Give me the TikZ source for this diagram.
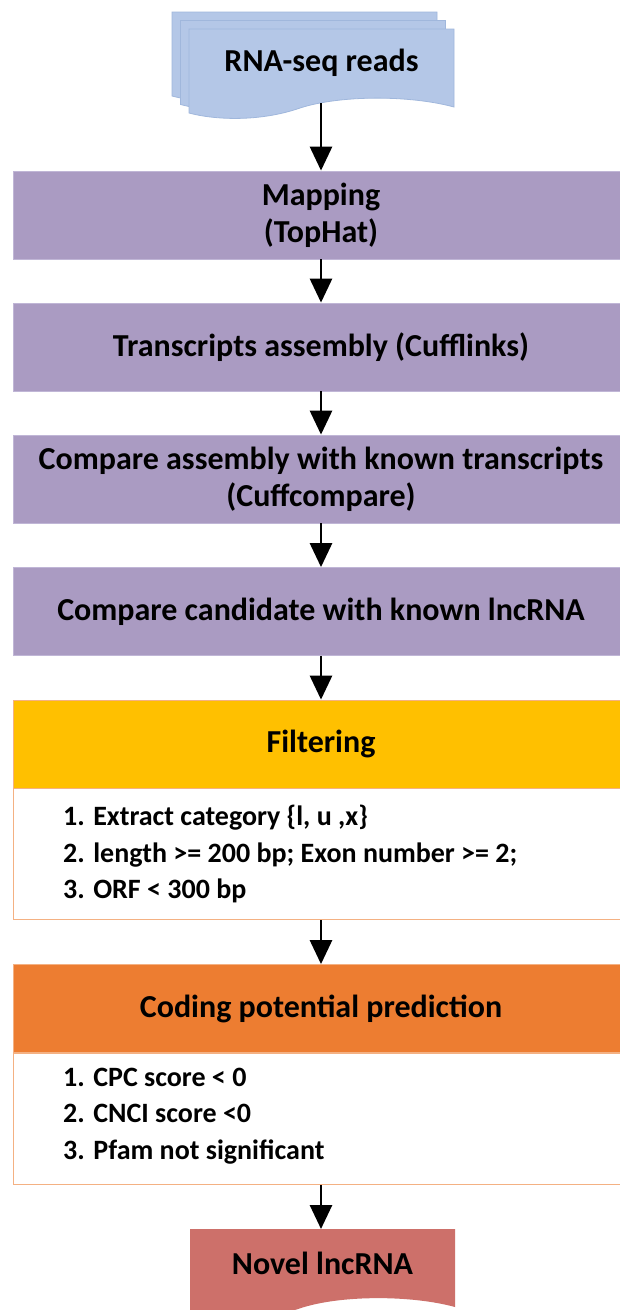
\documentclass[tikz,border=0pt]{standalone}
\usepackage{fontspec}
\setmainfont{Carlito}
\usetikzlibrary{arrows.meta}
\definecolor{docblue}{RGB}{180,199,231}
\definecolor{docedge}{RGB}{160,183,220}
\definecolor{lilac}{RGB}{170,155,194}
\definecolor{lilacedge}{RGB}{192,182,214}
\definecolor{gold}{RGB}{255,192,0}
\definecolor{tangerine}{RGB}{237,125,49}
\definecolor{rosered}{RGB}{205,112,106}
\definecolor{peach}{RGB}{244,177,131}
\begin{document}
\begin{tikzpicture}[x=1pt,y=-1pt,
  stage/.style={rectangle, fill=lilac, draw=lilacedge, line width=0.8pt,
    minimum width=616pt, minimum height=88pt, inner sep=0pt,
    font=\fontsize{32}{37}\selectfont\bfseries, align=center},
  head/.style={rectangle, draw=peach, line width=0.8pt,
    minimum width=616pt, minimum height=88pt, inner sep=0pt,
    font=\fontsize{32}{37}\selectfont\bfseries},
  body/.style={rectangle, fill=white, draw=peach, line width=1pt,
    minimum width=616pt, minimum height=131pt, inner sep=0pt},
  items/.style={anchor=west, align=left, inner sep=0pt,
    font=\fontsize{28}{36.5}\selectfont\bfseries},
  label/.style={inner sep=0pt, font=\fontsize{32}{37}\selectfont\bfseries},
  arr/.style={-{Triangle[width=22pt,length=24pt]}, line width=2.8pt, black},
  pics/docpic/.style={code={
    \path[fill=#1, draw=docedge, line width=0.8pt]
      (0,0) -- (265,0) -- (265,78)
      .. controls (221,66) and (151,66) .. (111,79)
      .. controls (71,93) and (26,91) .. (0,84) -- cycle;}},
  pics/docpicplain/.style={code={
    \path[fill=#1]
      (0,0) -- (265,0) -- (265,78)
      .. controls (221,66) and (151,66) .. (111,79)
      .. controls (71,93) and (26,91) .. (0,84) -- cycle;}}
]
\clip (0,0) rectangle (620,1310);
\fill[white] (0,0) rectangle (620,1310);

% RNA-seq reads (stacked documents)
\pic at (172,12) {docpic=docblue};
\pic at (180.5,20.5) {docpic=docblue};
\pic at (189,29) {docpic=docblue};
\node[label] (reads) at (321.5,63) {RNA-seq reads};
\coordinate (readsbot) at (321,103);

% purple stages
\node[stage] (map) at (321,215) {Mapping\\(TopHat)};
\node[stage] (asm) at (321,347) {Transcripts assembly (Cufflinks)};
\node[stage] (cmp) at (321,479) {Compare assembly with known transcripts\\(Cuffcompare)};
\node[stage] (cand) at (321,611.5) {Compare candidate with known lncRNA};

% filtering
\node[head, fill=gold] (filt) at (321,744) {Filtering};
\node[body, anchor=north] (filtb) at (filt.south) {};
\node[items] (filtl) at (63,854) {1. Extract category \{l, u ,x\}\\
2. length >= 200 bp; Exon number >= 2;\\
3. ORF < 300 bp};

% coding potential
\node[head, fill=tangerine] (code) at (321,1008.5) {Coding potential prediction};
\node[body, anchor=north] (codeb) at (code.south) {};
\node[items] (codel) at (63,1116) {1. CPC score < 0\\
2. CNCI score <0\\
3. Pfam not significant};

% novel lncRNA
\pic at (190,1229) {docpicplain=rosered};
\node[label] (novel) at (322.5,1263) {Novel lncRNA};
\coordinate (noveltop) at (321,1229);

% connectors
\draw[arr] (readsbot) -- (map.north);
\draw[arr] (map.south) -- (asm.north);
\draw[arr] (asm.south) -- (cmp.north);
\draw[arr] (cmp.south) -- (cand.north);
\draw[arr] (cand.south) -- (filt.north);
\draw[arr] (filtb.south) -- (code.north);
\draw[arr] (codeb.south) -- (noveltop);
\end{tikzpicture}
\end{document}
